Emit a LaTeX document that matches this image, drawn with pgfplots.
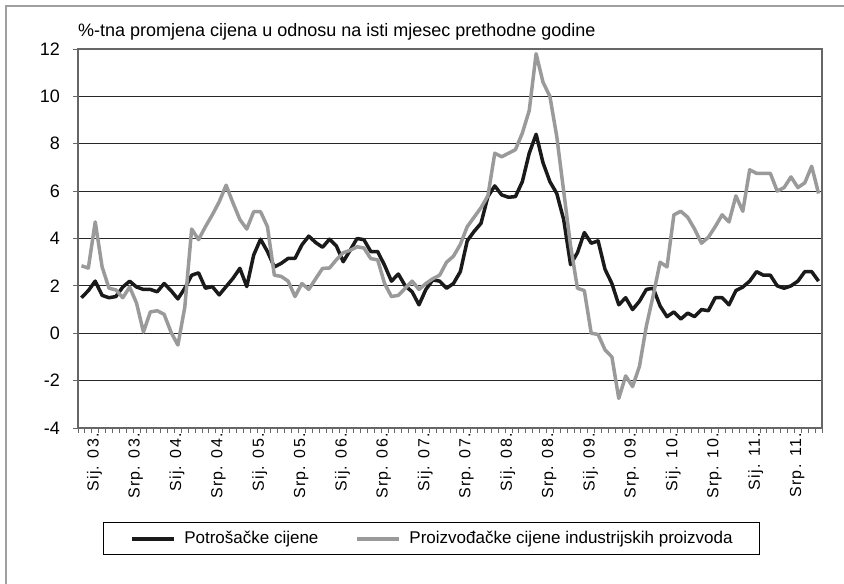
\documentclass[border=0pt]{standalone}
\usepackage{fontspec}
\setmainfont{Liberation Sans}
\newfontfamily\tickfont[LetterSpace=8]{Liberation Sans}
\usepackage{pgfplots}
\usepackage{pgfplotstable}
\pgfplotsset{compat=1.18}
\definecolor{cpi}{HTML}{1A1A1A}
\definecolor{ppi}{HTML}{9A9A9A}
\definecolor{framegray}{HTML}{A0A0A0}
\pgfplotstableread{
i cpi ppi
0 1.5 2.85
1 1.8 2.75
2 2.2 4.7
3 1.6 2.8
4 1.5 1.9
5 1.55 1.83
6 1.95 1.5
7 2.2 1.95
8 1.95 1.27
9 1.85 0.05
10 1.85 0.9
11 1.75 0.95
12 2.1 0.8
13 1.8 0.05
14 1.45 -0.5
15 1.9 1.1
16 2.45 4.4
17 2.55 3.95
18 1.9 4.5
19 1.97 5.0
20 1.62 5.55
21 1.97 6.25
22 2.32 5.5
23 2.74 4.8
24 1.97 4.4
25 3.3 5.13
26 3.97 5.13
27 3.45 4.5
28 2.8 2.45
29 2.95 2.4
30 3.16 2.2
31 3.16 1.55
32 3.73 2.1
33 4.1 1.85
34 3.83 2.3
35 3.63 2.74
36 3.97 2.75
37 3.69 3.1
38 3.02 3.4
39 3.5 3.5
40 4.0 3.65
41 3.95 3.6
42 3.45 3.15
43 3.45 3.1
44 2.87 2.1
45 2.2 1.55
46 2.5 1.6
47 2.0 1.9
48 1.75 2.2
49 1.2 1.85
50 1.85 2.1
51 2.25 2.3
52 2.2 2.45
53 1.9 3.0
54 2.1 3.25
55 2.6 3.75
56 3.9 4.5
57 4.3 4.9
58 4.64 5.3
59 5.77 5.8
60 6.22 7.6
61 5.84 7.45
62 5.74 7.6
63 5.77 7.75
64 6.4 8.45
65 7.6 9.4
66 8.4 11.8
67 7.2 10.6
68 6.4 10.0
69 5.9 8.3
70 4.8 6.0
71 2.9 3.7
72 3.4 1.9
73 4.25 1.8
74 3.8 0.0
75 3.9 -0.05
76 2.7 -0.7
77 2.1 -1.0
78 1.2 -2.75
79 1.5 -1.8
80 1.0 -2.25
81 1.35 -1.4
82 1.85 0.3
83 1.9 1.6
84 1.15 3.0
85 0.7 2.8
86 0.9 5.0
87 0.6 5.15
88 0.85 4.9
89 0.7 4.4
90 1.0 3.8
91 0.95 4.05
92 1.5 4.5
93 1.5 5.0
94 1.2 4.7
95 1.8 5.8
96 1.95 5.15
97 2.2 6.9
98 2.6 6.75
99 2.45 6.75
100 2.45 6.75
101 2.0 6.0
102 1.9 6.15
103 2.0 6.6
104 2.2 6.15
105 2.6 6.35
106 2.6 7.05
107 2.2 5.9
}\datatable
\begin{document}
\begin{tikzpicture}[x=1pt,y=1pt]
\useasboundingbox (0,0) rectangle (844,584);
\draw[framegray, line width=2pt] (6,0) -- (6,578) -- (844,578);
\node[anchor=base west, inner sep=0pt, font=\fontsize{18}{20}\selectfont] at (78,547.3) {\%-tna promjena cijena u odnosu na isti mjesec prethodne godine};
\begin{axis}[
  at={(78pt,156pt)}, anchor=south west,
  width=744pt, height=379pt, scale only axis,
  xmin=-0.5, xmax=107.5, ymin=-4, ymax=12,
  ytick={-4,-2,...,12},
  xtick={0,6,...,102},
  xticklabels={Sij. 03.,Srp. 03.,Sij. 04.,Srp. 04.,Sij. 05.,Srp. 05.,Sij. 06.,Srp. 06.,Sij. 07.,Srp. 07.,Sij. 08.,Srp. 08.,Sij. 09.,Srp. 09.,Sij. 10.,Srp. 10.,Sij. 11.,Srp. 11.},
  minor xtick={-0.5,0.5,...,107.5},
  xtick pos=bottom, ytick pos=left,
  tick align=outside,
  major x tick style={draw=none},
  minor x tick style={black!60, line width=0.8pt},
  minor tick length=5pt,
  major tick length=5pt,
  ytick style={black!60, line width=0.8pt},
  ymajorgrids,
  major grid style={black!85, line width=0.9pt},
  axis line style={black!60, line width=1.2pt},
  /pgf/number format/assume math mode=true,
  yticklabel style={font=\fontsize{18}{18}\selectfont, inner sep=0pt, xshift=-13pt},
  xticklabel style={rotate=90, anchor=east, font=\tickfont\fontsize{16}{16}\selectfont, inner sep=0pt, yshift=-13pt},
  legend style={at={(0.4751,-0.2916)}, anchor=center, legend columns=2, draw=black, line width=0.8pt, fill=white,
    inner xsep=27pt, inner ysep=9pt, font=\fontsize{17}{17}\selectfont,
    /tikz/every even column/.append style={column sep=37pt},
    /tikz/every odd column/.append style={column sep=8pt},
    nodes={inner sep=0pt}},
  legend image code/.code={\draw[#1, line width=4pt] (0pt,0pt) -- (42pt,0pt);},
]
\addplot[cpi, line width=3.5pt, line join=round] table[x=i, y=cpi] {\datatable};
\addlegendentry{Potrošačke cijene}
\addplot[ppi, line width=3.5pt, line join=round] table[x=i, y=ppi] {\datatable};
\addlegendentry{Proizvođačke cijene industrijskih proizvoda}
\end{axis}
\end{tikzpicture}
\end{document}
